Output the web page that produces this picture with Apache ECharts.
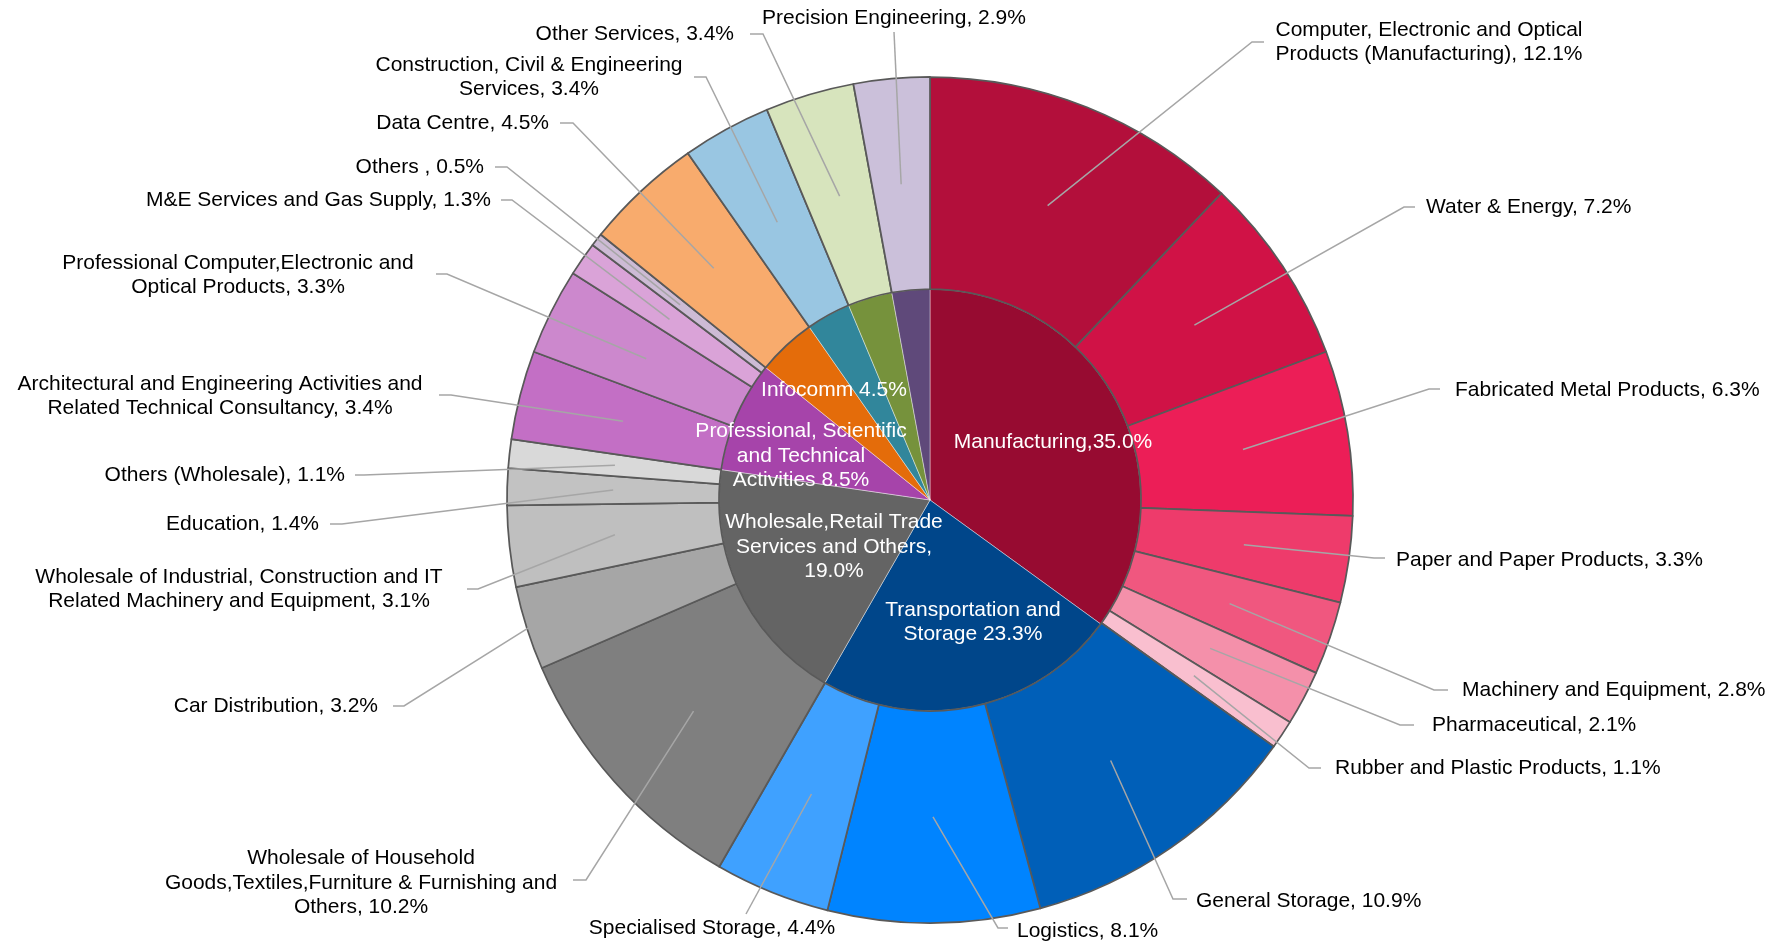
<!DOCTYPE html>
<html>
<head>
<meta charset="utf-8">
<script src="https://cdn.jsdelivr.net/npm/echarts@6/dist/echarts.min.js"></script>
<style>
  html, body { margin: 0; padding: 0; background: #ffffff; }
  #chart { width: 1785px; height: 944px; }
</style>
</head>
<body>
<div id="chart"></div>
<script>
// ---- Inner ring: sectors, share of total (%) ----
const sectorNames = [
  'Manufacturing',
  'Transportation and Storage',
  'Wholesale,Retail Trade Services and Others',
  'Professional, Scientific and Technical Activities',
  'Infocomm',
  'Construction, Civil & Engineering Services',
  'Other Services',
  'Precision Engineering'
];
const sectorValues = [35.0, 23.3, 19.0, 8.5, 4.5, 3.4, 3.4, 2.9];
// caption text drawn inside the inner ring ('' = no caption)
const sectorCaptions = [
  'Manufacturing',
  'Transportation and\nStorage',
  'Wholesale,Retail Trade\nServices and Others',
  'Professional, Scientific\nand Technical\nActivities',
  'Infocomm',
  '', '', ''
];
const sectorSeparators = [',', ' ', ',\n', ' ', ' ', '', '', ''];
const sectorColors = ['#970B31', '#00468A', '#646464', '#A644AA', '#E46C0A', '#31869B', '#76923C', '#5F497A'];

// ---- Outer ring: sub-sectors, share of total (%) ----
const subsectorNames = [
  'Computer, Electronic and Optical\nProducts (Manufacturing)',
  'Water & Energy',
  'Fabricated Metal Products',
  'Paper and Paper Products',
  'Machinery and Equipment',
  'Pharmaceutical',
  'Rubber and Plastic Products',
  'General Storage',
  'Logistics',
  'Specialised Storage',
  'Wholesale of Household\nGoods,Textiles,Furniture & Furnishing and\nOthers',
  'Car Distribution',
  'Wholesale of Industrial, Construction and IT\nRelated Machinery and Equipment',
  'Education',
  'Others (Wholesale)',
  'Architectural and Engineering Activities and\nRelated Technical Consultancy',
  'Professional Computer,Electronic and\nOptical Products',
  'M&E Services and Gas Supply',
  'Others ',
  'Data Centre',
  'Construction, Civil & Engineering\nServices',
  'Other Services',
  'Precision Engineering'
];
const subsectorValues = [12.1, 7.2, 6.3, 3.3, 2.8, 2.1, 1.1, 10.9, 8.1, 4.4, 10.2, 3.2, 3.1, 1.4, 1.1, 3.4, 3.3, 1.3, 0.5, 4.5, 3.4, 3.4, 2.9];
const subsectorColors = [
  '#B30F3B', '#D01246', '#EC1E57', '#EE3B6B', '#F0577F', '#F490AA', '#F9BFCF',
  '#005FB8', '#0084FF', '#3FA1FF',
  '#7F7F7F', '#A6A6A6', '#BFBFBF', '#C2C2C2', '#D9D9D9',
  '#C36FC5', '#CC88CD', '#DAA3D8', '#CDBBD5',
  '#F8AB6D', '#99C6E2', '#D7E4BD', '#CBC0DA'
];

// ---- Geometry and label placement ----
const CX = 930, CY = 500, R_IN = 211, R_OUT = 423, R_LEAD = 317;

// caption anchors for the inner ring
const innerLabelSpots = [
  [1053, 442], [973, 622], [834, 547], [801, 456], [834, 390], null, null, null
];

// caption anchors and leader-line bends for the outer ring
const outerLabelSpots = [
  { x: 1429, y: 42,  align: 'center', path: [[1252, 42], [1264, 42]] },
  { x: 1426, y: 207, align: 'left',   path: [[1404, 207], [1415, 207]] },
  { x: 1455, y: 390, align: 'left',   path: [[1429, 389], [1440, 389]] },
  { x: 1396, y: 560, align: 'left',   path: [[1374, 558], [1385, 558]] },
  { x: 1462, y: 690, align: 'left',   path: [[1434, 690], [1448, 690]] },
  { x: 1432, y: 725, align: 'left',   path: [[1400, 725], [1414, 725]] },
  { x: 1335, y: 768, align: 'left',   path: [[1309, 768], [1321, 768]] },
  { x: 1196, y: 901, align: 'left',   path: [[1173, 899], [1187, 899]] },
  { x: 1017, y: 931, align: 'left',   path: [[998, 928], [1008, 928]] },
  { x: 712,  y: 928, align: 'center', path: [[746, 914]] },
  { x: 361,  y: 883, align: 'center', path: [[586, 880], [573, 880]] },
  { x: 378,  y: 706, align: 'right',  path: [[404, 706], [393, 706]], reach: 421 },
  { x: 239,  y: 589, align: 'center', path: [[478, 589], [467, 589]] },
  { x: 319,  y: 524, align: 'right',  path: [[342, 524], [330, 524]] },
  { x: 345,  y: 475, align: 'right',  path: [[364, 475], [355, 475]] },
  { x: 220,  y: 396, align: 'center', path: [[451, 395], [439, 395]] },
  { x: 238,  y: 275, align: 'center', path: [[447, 274], [436, 274]] },
  { x: 491,  y: 200, align: 'right',  path: [[512, 200], [501, 200]] },
  { x: 484,  y: 167, align: 'right',  path: [[507, 167], [495, 167]] },
  { x: 549,  y: 123, align: 'right',  path: [[573, 123], [560, 123]] },
  { x: 529,  y: 77,  align: 'center', path: [[706, 77], [694, 77]] },
  { x: 734,  y: 34,  align: 'right',  path: [[763, 34], [750, 34]] },
  { x: 894,  y: 18,  align: 'center', path: [[894, 32]] }
];

// mid-angle of every outer slice (radians, clockwise from 12 o'clock)
const subsectorTotal = subsectorValues.reduce((a, b) => a + b, 0);
let running = 0;
const subsectorMidAngles = subsectorValues.map(v => {
  const mid = (running + v / 2) / subsectorTotal * Math.PI * 2;
  running += v;
  return mid;
});

const FONT = "'Liberation Sans', Arial, sans-serif";

const innerData = sectorValues.map((v, i) => ({
  name: sectorNames[i],
  value: v,
  itemStyle: { color: sectorColors[i] },
  label: { show: sectorCaptions[i] !== '' }
}));

const outerData = subsectorValues.map((v, i) => ({
  name: subsectorNames[i],
  value: v,
  itemStyle: { color: subsectorColors[i] }
}));

// same slices again, unfilled, so captions and leader lines sit above every sector
const outerCaptionData = subsectorValues.map((v, i) => ({
  name: subsectorNames[i],
  value: v
}));

const chart = echarts.init(document.getElementById('chart'), null, { renderer: 'canvas' });

chart.setOption({
  animation: false,
  backgroundColor: '#ffffff',
  series: [
    {
      type: 'pie',
      name: 'Sector',
      z: 2,
      center: [CX, CY],
      radius: [0, R_IN],
      startAngle: 90,
      clockwise: true,
      avoidLabelOverlap: false,
      silent: true,
      itemStyle: { borderColor: 'rgba(255,255,255,0.55)', borderWidth: 0.75 },
      label: {
        show: true,
        position: 'inside',
        color: '#ffffff',
        fontFamily: FONT,
        fontSize: 21,
        lineHeight: 24.5,
        formatter: p => sectorCaptions[p.dataIndex] + sectorSeparators[p.dataIndex] + p.value.toFixed(1) + '%'
      },
      labelLine: { show: false },
      labelLayout: p => {
        const s = innerLabelSpots[p.dataIndex];
        return s ? { x: s[0], y: s[1], align: 'center', verticalAlign: 'middle' } : {};
      },
      data: innerData
    },
    {
      type: 'pie',
      name: 'Sub-sector',
      z: 2,
      center: [CX, CY],
      radius: [R_IN, R_OUT],
      startAngle: 90,
      clockwise: true,
      avoidLabelOverlap: false,
      silent: true,
      itemStyle: { borderColor: '#595959', borderWidth: 1.75 },
      label: { show: false },
      labelLine: { show: false },
      data: outerData
    },
    {
      type: 'pie',
      name: 'Sub-sector captions',
      z: 6,
      center: [CX, CY],
      radius: [R_IN, R_OUT],
      startAngle: 90,
      clockwise: true,
      avoidLabelOverlap: false,
      silent: true,
      itemStyle: { color: 'rgba(0,0,0,0)', borderWidth: 0 },
      label: {
        show: true,
        position: 'outside',
        color: '#000000',
        fontFamily: FONT,
        fontSize: 21,
        lineHeight: 24.5,
        formatter: p => p.name + ', ' + p.value.toFixed(1) + '%'
      },
      labelLine: {
        show: true,
        length: 10,
        length2: 10,
        smooth: false,
        lineStyle: { color: '#A6A6A6', width: 1.5 }
      },
      labelLayout: p => {
        const s = outerLabelSpots[p.dataIndex];
        const a = subsectorMidAngles[p.dataIndex];
        const r = s.reach || R_LEAD;
        const start = [CX + r * Math.sin(a), CY - r * Math.cos(a)];
        return {
          x: s.x,
          y: s.y,
          align: s.align,
          verticalAlign: 'middle',
          labelLinePoints: [start].concat(s.path)
        };
      },
      data: outerCaptionData
    }
  ]
});
</script>
</body>
</html>
